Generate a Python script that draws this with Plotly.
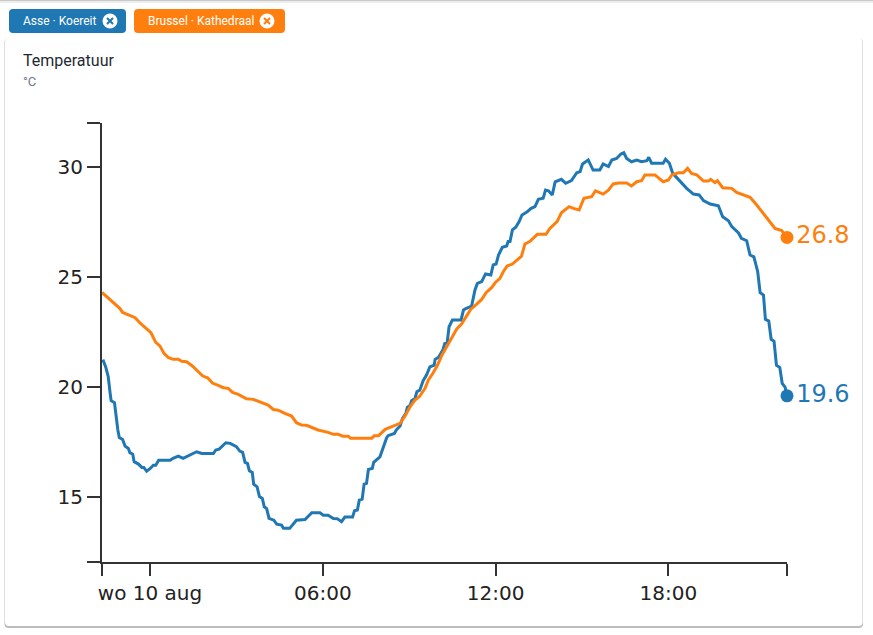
import plotly.graph_objects as go
import pandas as pd

W = 873
H = 635

# minutes after midnight on 10 aug, temperature in deg C
asse_min = [-100, -97, -92, -87, -83, -81, -74, -71, -67, -64, -57, -52, -45, -42, -36, -33, -24, -17, -13, -7, 0, 7, 12, 18, 42, 48, 59, 69, 78, 87, 97, 108, 132, 137, 144, 158, 167, 180, 187, 193, 198, 203, 207, 213, 216, 223, 228, 234, 238, 243, 248, 258, 264, 274, 278, 291, 305, 323, 337, 354, 361, 371, 382, 390, 399, 406, 422, 426, 432, 436, 442, 446, 451, 455, 463, 466, 479, 493, 496, 509, 514, 521, 526, 533, 536, 542, 545, 552, 556, 562, 569, 576, 583, 592, 594, 601, 610, 614, 619, 623, 630, 648, 653, 658, 670, 677, 682, 691, 699, 710, 715, 721, 726, 734, 743, 746, 750, 755, 762, 769, 775, 785, 794, 802, 809, 819, 824, 830, 838, 844, 857, 866, 878, 889, 896, 901, 913, 923, 937, 944, 955, 962, 972, 981, 987, 993, 1003, 1014, 1024, 1035, 1039, 1045, 1069, 1074, 1082, 1089, 1101, 1118, 1132, 1144, 1153, 1167, 1184, 1193, 1205, 1212, 1226, 1232, 1243, 1250, 1258, 1266, 1271, 1278, 1282, 1289, 1294, 1300, 1305, 1312, 1317, 1323, 1327]
asse_temp = [21.15, 21.18, 20.89, 20.47, 19.71, 19.38, 19.29, 18.65, 18.05, 17.71, 17.62, 17.32, 17.21, 17.02, 16.95, 16.61, 16.5, 16.35, 16.35, 16.18, 16.29, 16.45, 16.45, 16.67, 16.67, 16.76, 16.86, 16.76, 16.86, 16.95, 17.06, 16.98, 16.98, 17.14, 17.18, 17.47, 17.44, 17.29, 17.09, 17.03, 16.58, 16.53, 16.2, 16.12, 15.59, 15.47, 15.02, 14.94, 14.56, 14.48, 14.03, 13.95, 13.77, 13.73, 13.58, 13.58, 13.95, 13.98, 14.29, 14.29, 14.18, 14.18, 14.03, 14.02, 13.88, 14.09, 14.09, 14.38, 14.41, 14.86, 14.91, 15.59, 15.62, 16.26, 16.3, 16.58, 16.83, 17.7, 17.79, 17.89, 18.08, 18.23, 18.58, 18.8, 19.08, 19.18, 19.38, 19.48, 19.79, 19.86, 20.29, 20.55, 20.92, 21.0, 21.26, 21.35, 21.68, 21.98, 22.0, 22.74, 23.05, 23.05, 23.5, 23.57, 23.68, 24.41, 24.71, 24.79, 25.14, 25.09, 25.55, 25.59, 26.0, 26.35, 26.41, 26.61, 26.61, 27.14, 27.26, 27.52, 27.82, 27.95, 28.12, 28.2, 28.53, 28.58, 28.95, 28.92, 28.73, 29.33, 29.44, 29.26, 29.38, 29.74, 29.79, 30.14, 30.32, 29.86, 29.86, 30.14, 30.02, 30.32, 30.39, 30.59, 30.65, 30.39, 30.24, 30.32, 30.24, 30.29, 30.44, 30.17, 30.17, 30.35, 30.17, 29.71, 29.41, 29.03, 28.77, 28.73, 28.47, 28.32, 28.24, 27.74, 27.56, 27.29, 27.0, 26.76, 26.65, 26.0, 25.92, 25.24, 24.29, 24.18, 23.08, 23.0, 22.17, 22.08, 21.0, 20.89, 20.17, 20.0, 19.6]

brussel_min = [-100, -83, -63, -57, -45, -31, -21, -10, 2, 12, 21, 29, 38, 48, 59, 66, 76, 87, 97, 110, 120, 130, 142, 153, 163, 172, 184, 201, 215, 233, 246, 257, 267, 281, 295, 305, 316, 326, 340, 350, 371, 382, 392, 402, 413, 418, 462, 467, 476, 490, 500, 510, 521, 531, 542, 552, 561, 573, 580, 590, 599, 608, 618, 628, 639, 649, 660, 668, 680, 691, 700, 712, 719, 729, 736, 744, 755, 774, 781, 791, 807, 825, 833, 848, 857, 864, 873, 882, 894, 904, 920, 928, 944, 955, 965, 976, 993, 1003, 1014, 1024, 1031, 1052, 1069, 1080, 1087, 1101, 1111, 1120, 1128, 1139, 1153, 1163, 1168, 1177, 1182, 1193, 1212, 1222, 1236, 1250, 1264, 1278, 1291, 1302, 1316, 1327]
brussel_temp = [24.3, 23.98, 23.58, 23.39, 23.27, 23.15, 22.92, 22.71, 22.47, 22.03, 21.86, 21.53, 21.35, 21.26, 21.26, 21.17, 21.15, 20.98, 20.77, 20.5, 20.42, 20.18, 20.08, 19.97, 19.94, 19.76, 19.67, 19.47, 19.44, 19.29, 19.18, 18.98, 18.95, 18.8, 18.68, 18.38, 18.27, 18.26, 18.14, 18.05, 17.94, 17.85, 17.85, 17.77, 17.77, 17.67, 17.67, 17.79, 17.79, 18.08, 18.17, 18.27, 18.35, 18.68, 19.11, 19.41, 19.56, 19.94, 20.32, 20.65, 21.0, 21.45, 21.83, 22.21, 22.64, 22.86, 23.27, 23.53, 23.76, 23.98, 24.29, 24.53, 24.74, 24.94, 25.24, 25.5, 25.59, 25.95, 26.5, 26.61, 26.94, 26.94, 27.21, 27.52, 27.92, 28.05, 28.2, 28.12, 28.05, 28.58, 28.65, 28.92, 28.77, 28.95, 29.23, 29.27, 29.27, 29.14, 29.33, 29.38, 29.64, 29.64, 29.33, 29.41, 29.64, 29.74, 29.74, 29.94, 29.71, 29.64, 29.36, 29.36, 29.44, 29.29, 29.38, 29.06, 29.03, 28.85, 28.73, 28.62, 28.27, 27.86, 27.52, 27.21, 27.11, 26.8]

x_tick_min = [-100, 0, 360, 720, 1080, 1327]
x_tick_text = ["", "wo 10 aug", "06:00", "12:00", "18:00", ""]
y_tick_vals = [12.05, 15, 20, 25, 30, 32]
y_tick_text = ["", "15", "20", "25", "30", ""]

BLUE = "#1f77b4"
ORANGE = "#ff7f0e"
INK = "#333333"
DAY = pd.Timestamp("2022-08-10")


def to_time(minutes):
    return [DAY + pd.Timedelta(minutes=m) for m in minutes]


def px(x):
    return x / W


def py(y):
    return 1 - y / H


def box(x0, y0, x1, y1, **kw):
    return dict(type="rect", xref="paper", yref="paper", x0=px(x0), x1=px(x1),
                y0=py(y0), y1=py(y1), **kw)


def rounded(x0, y0, x1, y1, r, color):
    path = (f"M {px(x0 + r)} {py(y0)} L {px(x1 - r)} {py(y0)} "
            f"Q {px(x1)} {py(y0)} {px(x1)} {py(y0 + r)} L {px(x1)} {py(y1 - r)} "
            f"Q {px(x1)} {py(y1)} {px(x1 - r)} {py(y1)} L {px(x0 + r)} {py(y1)} "
            f"Q {px(x0)} {py(y1)} {px(x0)} {py(y1 - r)} L {px(x0)} {py(y0 + r)} "
            f"Q {px(x0)} {py(y0)} {px(x0 + r)} {py(y0)} Z")
    return dict(type="path", xref="paper", yref="paper", path=path,
                fillcolor=color, line_width=0, layer="below")


def close_icon(cx, cy, color):
    shapes = [box(cx - 7.5, cy - 7.5, cx + 7.5, cy + 7.5, fillcolor="white", line_width=0)]
    shapes[0]["type"] = "circle"
    for s in (1, -1):
        shapes.append(dict(type="line", xref="paper", yref="paper",
                           x0=px(cx - 3), x1=px(cx + 3),
                           y0=py(cy - 3 * s), y1=py(cy + 3 * s),
                           line=dict(color=color, width=2)))
    return shapes


fig = go.Figure()
for name, mins, temps, color in [("Asse · Koereit", asse_min, asse_temp, BLUE),
                                 ("Brussel · Kathedraal", brussel_min, brussel_temp, ORANGE)]:
    fig.add_trace(go.Scatter(x=to_time(mins), y=temps, mode="lines", name=name,
                             line=dict(color=color, width=3), cliponaxis=False))
    fig.add_trace(go.Scatter(x=to_time(mins[-1:]), y=temps[-1:], mode="markers+text",
                             text=[f"{temps[-1]:.1f}"], textposition="middle right",
                             textfont=dict(family="DejaVu Sans", size=24, color=color),
                             marker=dict(color=color, size=13), cliponaxis=False))

shapes = [
    box(0, 0, 873, 1, fillcolor="#c9c9c9", line_width=0, layer="below"),
    box(0, 1, 873, 3, fillcolor="#ececec", line_width=0, layer="below"),
    rounded(4.5, 38.5, 863, 628, 4, "#bdbdbd"),
    rounded(5, 38, 862.5, 626, 4, "white"),
    rounded(9, 9, 126, 33, 4, BLUE),
    rounded(134, 9, 285, 33, 4, ORANGE),
]
shapes += close_icon(110, 21, BLUE)
shapes += close_icon(267, 21, ORANGE)

annotations = [
    dict(text="Asse · Koereit", x=px(21), y=py(21), font=dict(color="white", size=12)),
    dict(text="Brussel · Kathedraal", x=px(146), y=py(21), font=dict(color="white", size=12)),
    dict(text="Temperatuur", x=px(21), y=py(60), font=dict(color="#1f2933", size=16)),
    dict(text="°C", x=px(21), y=py(81), font=dict(color="#6b7785", size=13)),
]
for a in annotations:
    a.update(xref="paper", yref="paper", xanchor="left", yanchor="middle", showarrow=False,
             xshift=0)
    a["font"]["family"] = "Roboto"

fig.update_layout(
    width=W, height=H,
    margin=dict(l=0, r=0, t=0, b=0, autoexpand=False),
    paper_bgcolor="white", plot_bgcolor="rgba(0,0,0,0)",
    showlegend=False,
    shapes=shapes,
    annotations=annotations,
    xaxis=dict(domain=[px(102), px(787)],
               range=to_time([-100, 1327]),
               tickmode="array", tickvals=to_time(x_tick_min), ticktext=x_tick_text,
               showgrid=False, zeroline=False, showline=True, linecolor=INK, linewidth=2,
               ticks="outside", ticklen=12, tickwidth=2, tickcolor=INK,
               tickfont=dict(family="DejaVu Sans", size=20, color="#222222")),
    yaxis=dict(domain=[py(562), py(123)],
               range=[12.05, 32],
               tickmode="array", tickvals=y_tick_vals, ticktext=y_tick_text,
               showgrid=False, zeroline=False, showline=True, linecolor=INK, linewidth=2,
               ticks="outside", ticklen=13, tickwidth=2, tickcolor=INK,
               tickfont=dict(family="DejaVu Sans", size=20, color="#222222")),
)

fig.write_html("out.html", config=dict(displayModeBar=False),
               post_script="document.body.style.margin='0';")
